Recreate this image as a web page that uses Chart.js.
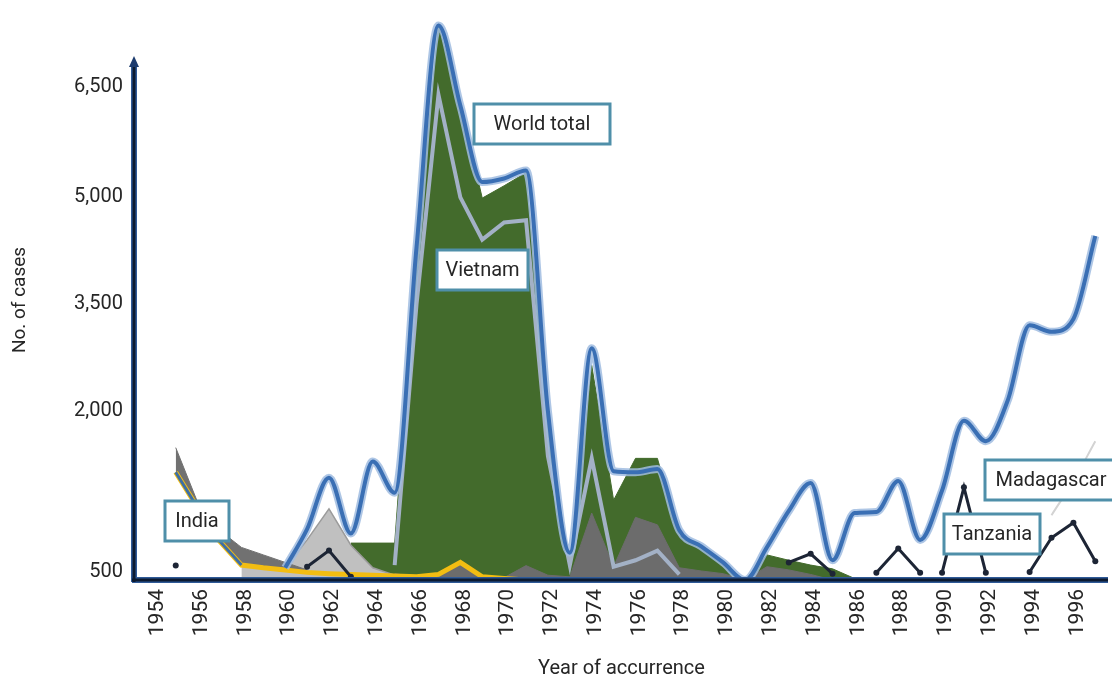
<!DOCTYPE html>
<html>
<head>
<meta charset="utf-8">
<script src="https://cdn.jsdelivr.net/npm/chart.js@4.4.1/dist/chart.umd.min.js"></script>
<style>
  html, body { margin: 0; padding: 0; background: #fff; }
  #wrap { width: 1112px; height: 681px; }
</style>
</head>
<body>
<div id="wrap"><canvas id="chart" width="1112" height="681"></canvas></div>
<script>
// years of occurrence (values are plotted mid-year)
const years = [1954, 1955, 1956, 1957, 1958, 1959, 1960, 1961, 1962, 1963,
               1964, 1965, 1966, 1967, 1968, 1969, 1970, 1971, 1972, 1973,
               1974, 1975, 1976, 1977, 1978, 1979, 1980, 1981, 1982, 1983,
               1984, 1985, 1986, 1987, 1988, 1989, 1990, 1991, 1992, 1993,
               1994, 1995, 1996];
const yearTicks = [1954, 1956, 1958, 1960, 1962, 1964, 1966, 1968, 1970, 1972, 1974,
                   1976, 1978, 1980, 1982, 1984, 1986, 1988, 1990, 1992, 1994, 1996];
const caseTicks = [500, 2000, 3500, 5000, 6500];

const worldTotal = [null, null, null, null, null, 540, 900, 1380, 860, 1530,
                    1240, 4300, 7350, 6250, 5200, 5250, 5360, 2000, 680, 2880,
                    1440, 1430, 1460, 890, 740, 590, 0, 730, 1070, 1330,
                    610, 1050, 1060, 1350, 800, 1260, 1910, 1720, 2150, 3200,
                    3110, 3290, 4450];
const vietnamArea = [null, null, null, null, null, null, null, null, 770, 770,
                     770, 4300, 7350, 6280, 4980, 5150, 5330, 1900, 350, 2640,
                     1170, 1560, 1560, 840, 720, 565, 0, 660, 610, 565,
                     530, 100, null, null, null, null, null, null, null, null,
                     null, null, null];
const vietnamLine = [null, null, null, null, null, null, null, null, null, null,
                     565, 3500, 6400, 4990, 4400, 4640, 4670, 1580, 565, 1560,
                     550, 610, 700, 350, null, null, null, null, null, null,
                     null, null, null, null, null, null, null, null, null, null,
                     null, null, null];
const otherDark = [null, null, null, null, null, null, null, null, null, null,
                   400, 200, 250, 580, 200, 150, 560, 300, 200, 1050,
                   550, 1010, 940, 540, 510, 400, 0, 550, 520, 350,
                   0, null, null, null, null, null, null, null, null, null,
                   null, null, null];
const otherLight = [null, null, null, 580, 560, 540, 800, 1090, 750, 540,
                    300, 150, null, null, null, null, null, null, null, null,
                    null, null, null, null, null, null, null, null, null, null,
                    null, null, null, null, null, null, null, null, null, null,
                    null, null, null];
const indiaBand = [1660, 1150, 890, 730, 660, 590, 520, null, null, null,
                   null, null, null, null, null, null, null, null, null, null,
                   null, null, null, null, null, null, null, null, null, null,
                   null, null, null, null, null, null, null, null, null, null,
                   null, null, null];
const india = [1430, 1100, 790, 565, 540, 520, 480, 400, 350, 300,
               250, 200, 350, 590, 200, 100, 0, null, null, null,
               null, null, null, null, null, null, null, null, null, null,
               null, null, null, null, null, null, null, null, null, null,
               null, null, null];
const tanzania = [560, null, null, null, null, null, 550, 700, 200, null,
                  null, null, null, null, null, null, null, null, null, null,
                  null, null, null, null, null, null, null, null, 590, 670,
                  400, null, 450, 720, 450, null, null, null, null, null,
                  null, null, null];
const madagascar = [null, null, null, null, null, null, null, null, null, null,
                    null, null, null, null, null, null, null, null, null, null,
                    null, null, null, null, null, null, null, null, null, null,
                    null, null, null, null, null, 450, 1290, 450, null, 500,
                    820, 960, 600];
const madagascarTrend = [null, null, null, null, null, null, null, null, null, null,
                         null, null, null, null, null, null, null, null, null, null,
                         null, null, null, null, null, null, null, null, null, null,
                         null, null, null, null, null, null, null, null, null, null,
                         1030, 1350, 1720];

/*////////////////////////////// bent value axis //////////////////////////////////*/
// the printed axis is not linear: 500 sits just above the base line
const bendValues = [0, 500, 2000, 3500, 5000, 6500, 8000];
const bendHeights = [0, 8, 170, 278, 386, 496, 606];

function bend(v) {
    if (v === null || v === undefined || isNaN(v)) return null;
    for (let i = 1; i < bendValues.length; i++) {
        if (v <= bendValues[i] || i === bendValues.length - 1) {
            const t = (v - bendValues[i - 1]) / (bendValues[i] - bendValues[i - 1]);
            return bendHeights[i - 1] + t * (bendHeights[i] - bendHeights[i - 1]);
        }
    }
}
function unbend(u) {
    for (let i = 1; i < bendHeights.length; i++) {
        if (u <= bendHeights[i] || i === bendHeights.length - 1) {
            const t = (u - bendHeights[i - 1]) / (bendHeights[i] - bendHeights[i - 1]);
            return bendValues[i - 1] + t * (bendValues[i] - bendValues[i - 1]);
        }
    }
}

class BentScale extends Chart.LinearScale {
    getPixelForValue(value) { return super.getPixelForValue(bend(value)); }
    getValueForPixel(pixel) { return unbend(super.getValueForPixel(pixel)); }
}
BentScale.id = 'bent';
BentScale.defaults = Chart.LinearScale.defaults;
Chart.register(BentScale);

/*////////////////////////////// axes + label boxes //////////////////////////////////*/
const axisPlugin = {
    id: 'arrowAxes',
    afterDatasetsDraw(chart) {
        const ctx = chart.ctx;
        const a = chart.chartArea;
        const ax = a.left - 1;
        ctx.save();
        ctx.lineCap = 'butt';
        [['#2f5a98', 6], ['#0c1a30', 3]].forEach(([c, w]) => {
            ctx.strokeStyle = c;
            ctx.lineWidth = w;
            ctx.beginPath();
            ctx.moveTo(ax, a.bottom + 2);
            ctx.lineTo(ax, 64);
            ctx.stroke();
            ctx.beginPath();
            ctx.moveTo(a.left - 3, a.bottom);
            ctx.lineTo(a.right, a.bottom);
            ctx.stroke();
        });
        ctx.fillStyle = '#1d3c6e';
        ctx.beginPath();
        ctx.moveTo(ax, 56);
        ctx.lineTo(ax - 5, 67);
        ctx.lineTo(ax + 5, 67);
        ctx.closePath();
        ctx.fill();

        // y axis title, centred a little below the middle like the original
        ctx.translate(20, 300);
        ctx.rotate(-Math.PI / 2);
        ctx.fillStyle = '#262626';
        ctx.font = '19px Roboto';
        ctx.textAlign = 'center';
        ctx.textBaseline = 'middle';
        ctx.fillText('No. of cases', 0, 0);
        ctx.restore();
    }
};

const boxes = [
    { text: 'World total', x: 474, y: 104, w: 136, h: 40 },
    { text: 'Vietnam', x: 437, y: 250, w: 91, h: 40 },
    { text: 'India', x: 165, y: 501, w: 64, h: 40 },
    { text: 'Madagascar', x: 985, y: 460, w: 132, h: 40 },
    { text: 'Tanzania', x: 944, y: 514, w: 96, h: 40 }
];

const boxPlugin = {
    id: 'labelBoxes',
    afterDraw(chart) {
        const ctx = chart.ctx;
        ctx.save();
        boxes.forEach(b => {
            ctx.fillStyle = '#ffffff';
            ctx.fillRect(b.x, b.y, b.w, b.h);
            ctx.strokeStyle = '#4f8fa9';
            ctx.lineWidth = 3;
            ctx.strokeRect(b.x, b.y, b.w, b.h);
            ctx.fillStyle = '#262626';
            ctx.font = '20px Roboto';
            ctx.textAlign = 'center';
            ctx.textBaseline = 'middle';
            ctx.fillText(b.text, b.x + b.w / 2, b.y + b.h / 2 + 1);
        });
        ctx.restore();
    }
};

/*////////////////////////////// chart //////////////////////////////////*/
const at = arr => years.map((yr, i) => ({ x: yr + 0.5, y: arr[i] }));

new Chart(document.getElementById('chart').getContext('2d'), {
    type: 'line',
    data: {
        datasets: [
            { label: 'Tanzania', data: at(tanzania), borderColor: '#1d2535', borderWidth: 3,
              pointRadius: 3, pointBackgroundColor: '#1d2535', pointBorderWidth: 0, tension: 0, order: 1 },
            { label: 'Madagascar', data: at(madagascar), borderColor: '#1d2535', borderWidth: 3,
              pointRadius: 3, pointBackgroundColor: '#1d2535', pointBorderWidth: 0, tension: 0, order: 1 },
            { label: 'Madagascar trend', data: at(madagascarTrend), borderColor: '#d3d3d3', borderWidth: 2,
              pointRadius: 0, tension: 0.4, order: 1 },
            { label: 'World total', data: at(worldTotal), borderColor: '#3a6fb4', borderWidth: 4,
              pointRadius: 0, cubicInterpolationMode: 'monotone', order: 2 },
            { label: 'World total halo', data: at(worldTotal), borderColor: 'rgba(160,188,224,0.85)', borderWidth: 8,
              pointRadius: 0, cubicInterpolationMode: 'monotone', order: 3 },
            { label: 'Vietnam', data: at(vietnamLine), borderColor: '#a3b1c6', borderWidth: 4,
              pointRadius: 0, tension: 0, order: 4 },
            { label: 'India line', data: at(india.map((v, i) => years[i] <= 1957 ? v : null)),
              borderColor: '#3d6fa5', borderWidth: 3, pointRadius: 0, tension: 0, order: 5 },
            { label: 'India', data: at(india), borderColor: '#f2bd12', borderWidth: 5,
              pointRadius: 0, tension: 0, order: 6 },
            { label: 'India band', data: at(indiaBand), borderColor: '#717171', borderWidth: 1,
              backgroundColor: '#717171', fill: 7, pointRadius: 0, tension: 0, order: 7 },
            { label: 'Other (light)', data: at(otherLight), borderColor: '#9b9b9b', borderWidth: 1.5,
              backgroundColor: '#c0c0c0', fill: 'origin', pointRadius: 0, tension: 0, order: 8 },
            { label: 'Other (dark)', data: at(otherDark), borderColor: '#6c6c6c', borderWidth: 1,
              backgroundColor: '#6c6c6c', fill: 'origin', pointRadius: 0, tension: 0, order: 9 },
            { label: 'Vietnam area', data: at(vietnamArea), borderColor: '#436b2c', borderWidth: 1,
              backgroundColor: '#436b2c', fill: 'origin', pointRadius: 0, tension: 0, order: 10 }
        ]
    },
    options: {
        responsive: false,
        animation: false,
        layout: { padding: 0 },
        plugins: {
            legend: { display: false },
            tooltip: { enabled: false }
        },
        scales: {
            x: {
                type: 'linear',
                min: 1952.64,
                max: 1997.08,
                afterBuildTicks: scale => { scale.ticks = yearTicks.map(v => ({ value: v })); },
                afterFit: scale => {
                    scale.height = 101;
                    scale.paddingLeft = 0;
                    scale.paddingRight = 0;
                },
                grid: { display: false, drawTicks: false },
                border: { display: false },
                ticks: {
                    autoSkip: false,
                    minRotation: 90,
                    maxRotation: 90,
                    padding: 9,
                    labelOffset: -7,
                    color: '#262626',
                    font: { family: 'Roboto', size: 21 },
                    callback: v => String(v)
                },
                title: {
                    display: true,
                    text: 'Year of accurrence',
                    color: '#262626',
                    font: { family: 'Roboto', size: 20 },
                    padding: { top: 4, bottom: 0 }
                }
            },
            y: {
                type: 'bent',
                min: 0,
                max: 580,
                bounds: 'data',
                afterBuildTicks: scale => { scale.ticks = caseTicks.map(v => ({ value: v })); },
                afterFit: scale => {
                    scale.width = 135;
                    scale.paddingTop = 0;
                    scale.paddingBottom = 0;
                },
                grid: { display: false, drawTicks: false },
                border: { display: false },
                ticks: {
                    autoSkip: false,
                    padding: 12,
                    color: '#262626',
                    font: { family: 'Roboto', size: 20 },
                    callback: v => v.toLocaleString('en-US')
                },
                title: { display: false }
            }
        }
    },
    plugins: [axisPlugin, boxPlugin]
});
</script>
</body>
</html>
